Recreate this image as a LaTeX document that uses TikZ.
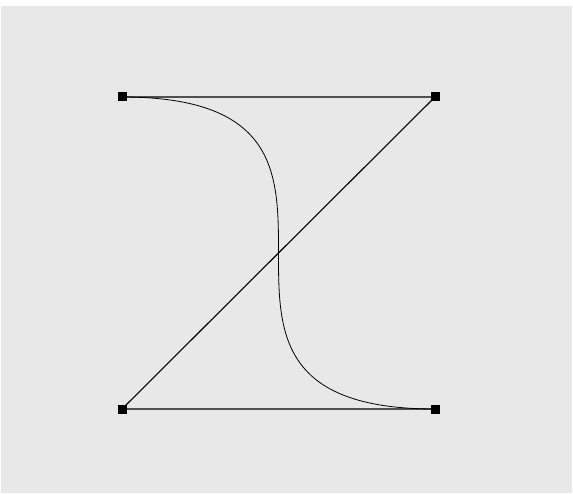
\documentclass[tikz,border=0pt]{standalone}
\begin{document}
\begin{tikzpicture}[x=1pt,y=-1pt,
  handle/.style={fill=black,inner sep=0pt,minimum size=9pt,draw=none},
  poly/.style={line width=1.1pt,black},
  curve/.style={line width=0.8pt,black}]
\useasboundingbox (0,0) rectangle (573,494);
\fill[white] (0,0) rectangle (573,494);
\fill[black!9] (1,6) rectangle (572,493);
\coordinate (p0) at (122,97);
\coordinate (p1) at (435,97);
\coordinate (p2) at (122,409);
\coordinate (p3) at (435,409);
\draw[poly] (p0) -- (p1) -- (p2) -- (p3);
\draw[curve] (p0) .. controls (p1) and (p2) .. (p3);
\node[handle] (h0) at (p0) {};
\node[handle] (h1) at (p1) {};
\node[handle] (h2) at (p2) {};
\node[handle] (h3) at (p3) {};
\end{tikzpicture}
\end{document}
